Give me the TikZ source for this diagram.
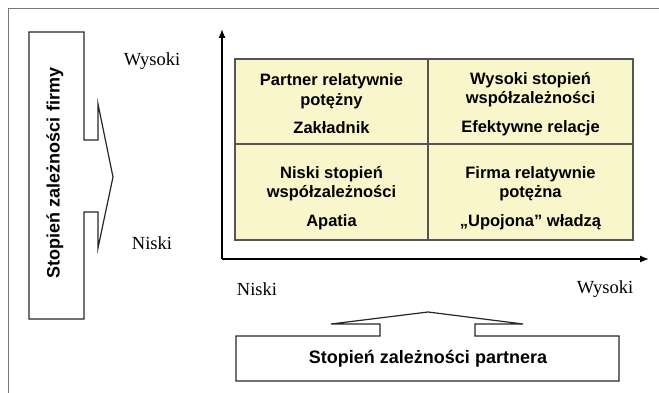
\documentclass[tikz,border=0pt]{standalone}
\usepackage{fontspec}
\setmainfont{Liberation Serif}
\setsansfont{Liberation Sans}
\usetikzlibrary{arrows.meta}
\definecolor{cellfill}{RGB}{250,246,204}
\definecolor{gridline}{RGB}{85,85,85}
\definecolor{framegray}{RGB}{120,120,120}
\tikzset{
  shapeline/.style={draw=black!85, line width=1.2pt},
  gridstyle/.style={draw=gridline, line width=1.1pt},
  celltext/.style={inner sep=0pt, align=center,
    font=\sffamily\bfseries\fontsize{16.5}{19.5}\selectfont},
  axislabel/.style={font=\rmfamily\fontsize{18.5}{22}\selectfont, inner sep=0pt},
  boxtext/.style={font=\sffamily\bfseries\fontsize{18}{21}\selectfont, inner sep=0pt},
  axis/.style={line width=1.3pt, -{Latex[length=9pt,width=7pt]}}
}
\begin{document}
\begin{tikzpicture}[x=1pt,y=-1pt]
\useasboundingbox (0,0) rectangle (659,393);
% outer frame (top and left only)
\draw[framegray, line width=0.9pt] (8,393) -- (8,8) -- (659,8);

% left block arrow
\draw[shapeline] (29,32) -- (84,32) -- (84,140) -- (98,140) -- (98,104) -- (113,177)
  -- (98,248) -- (98,212) -- (84,212) -- (84,319) -- (29,319) -- cycle;
\node[boxtext, rotate=90] (firmy) at (55,173) {Stopień zależności firmy};

% bottom block arrow
\draw[shapeline] (236,336) -- (380,336) -- (380,324) -- (331,324) -- (428,312)
  -- (523,324) -- (475,324) -- (475,336) -- (619,336) -- (619,381) -- (236,381) -- cycle;
\node[boxtext] (partnera) at (428,359) {Stopień zależności partnera};

% axes
\coordinate (O) at (222,259);
\coordinate (ytop) at (222,29);
\coordinate (xend) at (649,259);
\draw[axis] (O) -- (ytop);
\draw[axis] (O) -- (xend);

% axis labels
\node[axislabel] (wys1) at (152,61) {Wysoki};
\node[axislabel] (nis1) at (152,243) {Niski};
\node[axislabel] (nis2) at (257,289) {Niski};
\node[axislabel] (wys2) at (605,289) {Wysoki};

% grid
\coordinate (g1) at (235,59);
\coordinate (g2) at (633,240);
\fill[cellfill] (g1) rectangle (g2);
\draw[gridstyle] (g1) rectangle (g2);
\draw[gridstyle] (428,59) -- (428,240);
\draw[gridstyle] (235,144) -- (633,144);

% cell texts
\node[celltext] (tl) at (331.5,104) {Partner relatywnie\\potężny\\[9pt]Zakładnik};
\node[celltext] (tr) at (530.5,104) {Wysoki stopień\\współzależności\\[9pt]Efektywne relacje};
\node[celltext] (bl) at (331.5,198) {Niski stopień\\współzależności\\[9pt]Apatia};
\node[celltext] (br) at (530.5,198) {Firma relatywnie\\potężna\\[9pt]„Upojona” władzą};
\end{tikzpicture}
\end{document}
